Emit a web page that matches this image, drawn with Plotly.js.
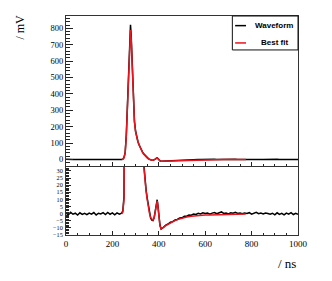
<!DOCTYPE html>
<html>
<head>
<meta charset="utf-8">
<script src="https://cdn.plot.ly/plotly-3.0.1.min.js"></script>
<style>html,body{margin:0;padding:0;background:#fff;}#chart{width:332px;height:281px;}</style>
</head>
<body>
<div id="chart"></div>
<script>
// Time axis (ns) of the recorded waveform
const waveTime = [
  0,10,20,30,40,50,60,70,80,90,100,110,120,130,140,150,160,170,180,190,200,210,220,230,240,
  245,250,255,260,265,270,275,278,281,285,290,295,300,305,310,315,320,325,330,335,
  340,345,350,355,360,365,370,375,380,385,390,393,396,400,405,410,415,420,
  430,440,450,460,470,480,490,500,510,520,530,540,550,560,
  570,580,590,600,610,620,630,640,650,660,670,680,690,700,710,720,730,740,750,760,
  770,780,790,800,810,820,830,840,850,860,870,880,890,900,910,920,930,940,950,960,
  970,980,990,1000
];
// Recorded waveform amplitude (mV)
const waveValue = [
  0.5,-0.8,0.9,-0.4,0.3,-1.0,0.6,-0.5,0.2,-0.7,0.4,-0.3,0.8,-0.9,0.3,-0.2,0.7,-0.6,0.9,-0.4,0.5,-0.8,0.6,-0.3,0.4,
  2,12,42,150,330,560,780,822,755,570,345,235,172,136,110,90,72,58,45,34,
  25,17,11,5,0.5,-3.2,-4.6,-4.9,-2.8,2.2,8.2,9.8,6,-2,-8,-10.8,-10.4,-9.6,
  -8.0,-7.3,-6.0,-5.6,-4.5,-4.1,-3.0,-2.9,-1.9,-1.8,-1.0,-1.1,-0.3,-0.5,
  0.3,-0.2,0.6,0.1,0.5,-0.3,0.4,0.8,0.0,0.5,1.2,0.2,0.4,-0.2,0.6,0.3,1.0,0.1,0.5,-0.1,
  0.4,0.2,0.7,-0.3,0.3,0.9,0.0,0.4,-0.2,0.5,0.1,-0.4,0.3,-0.8,0.6,-0.5,0.2,-0.9,0.4,-0.3,
  0.7,-0.6,0.3,-0.5
];
// Best-fit curve
const fitTime = [
  240,245,250,255,260,265,270,275,278,281,285,290,295,300,305,310,315,320,325,330,
  335,340,345,350,355,360,365,370,375,380,385,390,393,396,400,405,410,415,420,430,
  440,450,460,470,480,490,500,520,540,560,580,600,620,640,660,680,700,720,740,760,775
];
const fitValue = [
  0,1,10,38,145,320,545,750,790,735,555,335,228,168,133,108,88,70,56,43,
  32,23,16,10,4.5,0,-2.8,-4.2,-4.6,-3,1.5,7.5,9,5.5,-2.5,-8.5,-10.5,-10.3,-9.6,-8.4,
  -7.4,-6.5,-5.6,-4.9,-4.2,-3.6,-3.1,-2.3,-1.8,-1.4,-1.2,-1.0,-0.9,-0.8,-0.7,-0.6,-0.5,-0.4,-0.4,-0.3,-0.3
];
const seriesNames = ["Waveform", "Best fit"];

const black = "#000000", red = "#e8141e";
const traces = [
  {x: waveTime, y: waveValue, type: "scatter", mode: "lines", name: seriesNames[0], showlegend: false,
   line: {color: black, width: 1.5}, xaxis: "x", yaxis: "y"},
  {x: fitTime, y: fitValue, type: "scatter", mode: "lines", name: seriesNames[1], showlegend: false,
   line: {color: red, width: 1.5}, xaxis: "x", yaxis: "y"},
  {x: waveTime, y: waveValue, type: "scatter", mode: "lines", name: seriesNames[0], showlegend: false,
   line: {color: black, width: 1.5}, xaxis: "x2", yaxis: "y2"},
  {x: fitTime, y: fitValue, type: "scatter", mode: "lines", name: seriesNames[1], showlegend: false,
   line: {color: red, width: 1.5}, xaxis: "x2", yaxis: "y2"}
];

const serif = "Liberation Serif, Times New Roman, serif";
const sans = "Liberation Sans, Arial, sans-serif";
const frame = {showline: true, mirror: true, linecolor: "#333", linewidth: 1, zeroline: false, showgrid: false,
  ticks: "inside", tickcolor: "#222", tickfont: {family: serif, size: 8.5, color: "#000"}};

// legend box (ROOT-style, centred labels)
const legX0 = 0.717, legX1 = 1.0, legY0 = 0.845, legY1 = 1.0;
const legRows = [0.956, 0.877];
const legColors = [black, red];

const shapes = [
  {type: "rect", xref: "paper", yref: "paper", x0: legX0, x1: legX1, y0: legY0, y1: legY1,
   line: {color: "#111", width: 1}, fillcolor: "#fff", layer: "above"}
];
const annotations = [
  {text: "/ ns", xref: "paper", yref: "paper", x: 1, y: -0.085, xanchor: "right", yanchor: "top",
   showarrow: false, font: {family: serif, size: 13, color: "#000"}},
  {text: "/ mV", xref: "paper", yref: "paper", x: -0.2, y: 0.95, xanchor: "center", yanchor: "middle",
   textangle: -90, showarrow: false, font: {family: serif, size: 12, color: "#000"}}
];
seriesNames.forEach((nm, i) => {
  shapes.push({type: "line", xref: "paper", yref: "paper", x0: 0.729, x1: 0.776, y0: legRows[i], y1: legRows[i],
    line: {color: legColors[i], width: 1.5}, layer: "above"});
  annotations.push({text: "<b>" + nm + "</b>", xref: "paper", yref: "paper", x: 0.897, y: legRows[i],
    xanchor: "center", yanchor: "middle", showarrow: false,
    font: {family: sans, size: 8, color: "#000"}});
});

const layout = {
  width: 332, height: 281,
  margin: {l: 66, r: 34, t: 16, b: 46},
  paper_bgcolor: "#fff", plot_bgcolor: "#fff",
  showlegend: false,
  xaxis: Object.assign({}, frame, {domain: [0, 1], range: [0, 1000], anchor: "y", showticklabels: false,
    dtick: 200, ticklen: 4, minor: {dtick: 50, ticklen: 2, ticks: "inside", tickcolor: "#222"}}),
  yaxis: Object.assign({}, frame, {domain: [0.315, 1], range: [-40, 875], anchor: "x",
    dtick: 100, ticklen: 7, minor: {dtick: 20, ticklen: 3.5, ticks: "inside", tickcolor: "#222"}}),
  xaxis2: Object.assign({}, frame, {domain: [0, 1], range: [0, 1000], anchor: "y2",
    dtick: 200, ticklen: 4, tickfont: {family: serif, size: 9, color: "#000"},
    minor: {dtick: 50, ticklen: 2, ticks: "inside", tickcolor: "#222"}}),
  yaxis2: Object.assign({}, frame, {domain: [0, 0.3105], range: [-15, 32.8], anchor: "x2",
    dtick: 5, ticklen: 5, ticklabelstandoff: 1, tickfont: {family: serif, size: 6.2, color: "#000"},
    minor: {dtick: 1, ticklen: 2.5, ticks: "inside", tickcolor: "#222"}}),
  shapes: shapes,
  annotations: annotations
};

Plotly.newPlot("chart", traces, layout, {displayModeBar: false, staticPlot: true});
</script>
</body>
</html>
